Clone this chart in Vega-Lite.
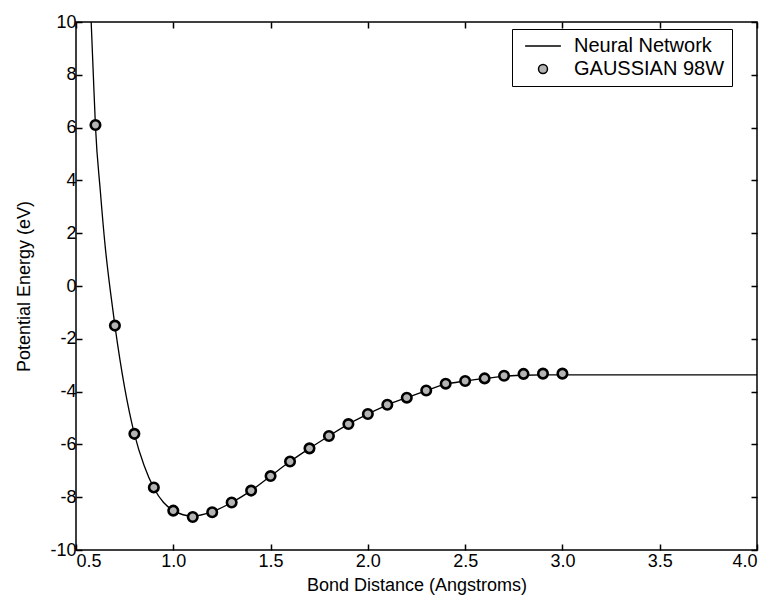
{
  "$schema": "https://vega.github.io/schema/vega-lite/v6.json",
  "autosize": "none",
  "width": 681,
  "height": 528,
  "padding": {"left": 76, "top": 22, "right": 18, "bottom": 57},
  "background": "white",
  "config": {
    "font": "Liberation Sans",
    "view": {"stroke": "black", "strokeWidth": 1.5},
    "axis": {
      "domain": false,
      "grid": false,
      "ticks": true,
      "tickColor": "black",
      "tickWidth": 1.5,
      "tickSize": -6,
      "labelColor": "black",
      "labelFont": "Liberation Sans",
      "labelFontSize": 18,
      "titleColor": "black",
      "titleFont": "Liberation Sans",
      "titleFontSize": 18,
      "titleFontWeight": "normal"
    }
  },
  "datasets": {
    "nn": [
      {"x": 0.578, "y": 10},
      {"x": 0.589, "y": 8},
      {"x": 0.6, "y": 6.05},
      {"x": 0.625, "y": 3.6},
      {"x": 0.65, "y": 1.5},
      {"x": 0.675, "y": -0.1},
      {"x": 0.7, "y": -1.5},
      {"x": 0.75, "y": -3.85},
      {"x": 0.8, "y": -5.6},
      {"x": 0.85, "y": -6.8},
      {"x": 0.9, "y": -7.65},
      {"x": 0.95, "y": -8.2},
      {"x": 1.0, "y": -8.5},
      {"x": 1.1, "y": -8.72},
      {"x": 1.2, "y": -8.55},
      {"x": 1.3, "y": -8.2},
      {"x": 1.4, "y": -7.75},
      {"x": 1.5, "y": -7.2},
      {"x": 1.6, "y": -6.65},
      {"x": 1.7, "y": -6.15},
      {"x": 1.8, "y": -5.68},
      {"x": 1.9, "y": -5.23},
      {"x": 2.0, "y": -4.85},
      {"x": 2.1, "y": -4.5},
      {"x": 2.2, "y": -4.23},
      {"x": 2.3, "y": -3.96},
      {"x": 2.4, "y": -3.72},
      {"x": 2.5, "y": -3.6},
      {"x": 2.6, "y": -3.5},
      {"x": 2.7, "y": -3.42},
      {"x": 2.8, "y": -3.38},
      {"x": 2.9, "y": -3.37},
      {"x": 3.0, "y": -3.37},
      {"x": 3.5, "y": -3.37},
      {"x": 4.0, "y": -3.37}
    ],
    "g98": [
      {"x": 0.6, "y": 6.1, "series": "GAUSSIAN 98W"},
      {"x": 0.7, "y": -1.5, "series": "GAUSSIAN 98W"},
      {"x": 0.8, "y": -5.6, "series": "GAUSSIAN 98W"},
      {"x": 0.9, "y": -7.63, "series": "GAUSSIAN 98W"},
      {"x": 1.0, "y": -8.51, "series": "GAUSSIAN 98W"},
      {"x": 1.1, "y": -8.75, "series": "GAUSSIAN 98W"},
      {"x": 1.2, "y": -8.57, "series": "GAUSSIAN 98W"},
      {"x": 1.3, "y": -8.2, "series": "GAUSSIAN 98W"},
      {"x": 1.4, "y": -7.75, "series": "GAUSSIAN 98W"},
      {"x": 1.5, "y": -7.2, "series": "GAUSSIAN 98W"},
      {"x": 1.6, "y": -6.65, "series": "GAUSSIAN 98W"},
      {"x": 1.7, "y": -6.15, "series": "GAUSSIAN 98W"},
      {"x": 1.8, "y": -5.68, "series": "GAUSSIAN 98W"},
      {"x": 1.9, "y": -5.23, "series": "GAUSSIAN 98W"},
      {"x": 2.0, "y": -4.85, "series": "GAUSSIAN 98W"},
      {"x": 2.1, "y": -4.5, "series": "GAUSSIAN 98W"},
      {"x": 2.2, "y": -4.23, "series": "GAUSSIAN 98W"},
      {"x": 2.3, "y": -3.96, "series": "GAUSSIAN 98W"},
      {"x": 2.4, "y": -3.7, "series": "GAUSSIAN 98W"},
      {"x": 2.5, "y": -3.6, "series": "GAUSSIAN 98W"},
      {"x": 2.6, "y": -3.5, "series": "GAUSSIAN 98W"},
      {"x": 2.7, "y": -3.4, "series": "GAUSSIAN 98W"},
      {"x": 2.8, "y": -3.33, "series": "GAUSSIAN 98W"},
      {"x": 2.9, "y": -3.32, "series": "GAUSSIAN 98W"},
      {"x": 3.0, "y": -3.32, "series": "GAUSSIAN 98W"}
    ]
  },
  "layer": [
    {
      "data": {"name": "nn"},
      "mark": {"type": "line", "color": "black", "strokeWidth": 1.3, "interpolate": "monotone", "clip": true},
      "encoding": {
        "x": {
          "field": "x", "type": "quantitative",
          "scale": {"domain": [0.5, 4], "nice": false, "zero": false},
          "axis": {"orient": "top", "labels": false, "title": null, "values": [0.5, 1, 1.5, 2, 2.5, 3, 3.5, 4]}
        },
        "y": {
          "field": "y", "type": "quantitative",
          "scale": {"domain": [-10, 10], "nice": false, "zero": false},
          "axis": {"orient": "right", "labels": false, "title": null, "values": [-10, -8, -6, -4, -2, 0, 2, 4, 6, 8, 10]}
        }
      }
    },
    {
      "data": {"name": "g98"},
      "mark": {"type": "point", "filled": true, "fill": "#b4b4b4", "stroke": "black", "strokeWidth": 2.6, "size": 90, "opacity": 1},
      "encoding": {
        "x": {
          "field": "x", "type": "quantitative",
          "axis": {"orient": "bottom", "title": "Bond Distance (Angstroms)", "format": ".1f", "values": [0.5, 1, 1.5, 2, 2.5, 3, 3.5, 4], "labelPadding": 8, "titlePadding": 6}
        },
        "y": {
          "field": "y", "type": "quantitative",
          "axis": {"orient": "left", "title": "Potential Energy (eV)", "values": [-10, -8, -6, -4, -2, 0, 2, 4, 6, 8, 10], "labelExpr": "toString(datum.value)", "labelPadding": 6, "titlePadding": 16}
        },
        "shape": {
          "field": "series", "type": "nominal",
          "scale": {"domain": ["Neural Network", "GAUSSIAN 98W"], "range": ["M-4,0L4,0", "circle"]},
          "legend": {
            "title": null,
            "orient": "none",
            "legendX": 436,
            "legendY": 7,
            "strokeColor": "black",
            "fillColor": "white",
            "padding": 7,
            "symbolOffset": 14,
            "symbolSize": 80,
            "labelExpr": "datum.label + '\u00a0\u00a0\u00a0\u00a0\u00a0'",
            "labelFont": "Liberation Sans",
            "labelFontSize": 20,
            "labelColor": "black",
            "labelOffset": 21,
            "rowPadding": 3,
            "encode": {
              "symbols": {
                "update": {
                  "stroke": {"value": "black"},
                  "strokeWidth": {"value": 1.5},
                  "fill": {"value": "#b4b4b4"},
                  "opacity": {"value": 1}
                }
              }
            }
          }
        }
      }
    }
  ],
  "resolve": {"axis": {"x": "independent", "y": "independent"}}
}
